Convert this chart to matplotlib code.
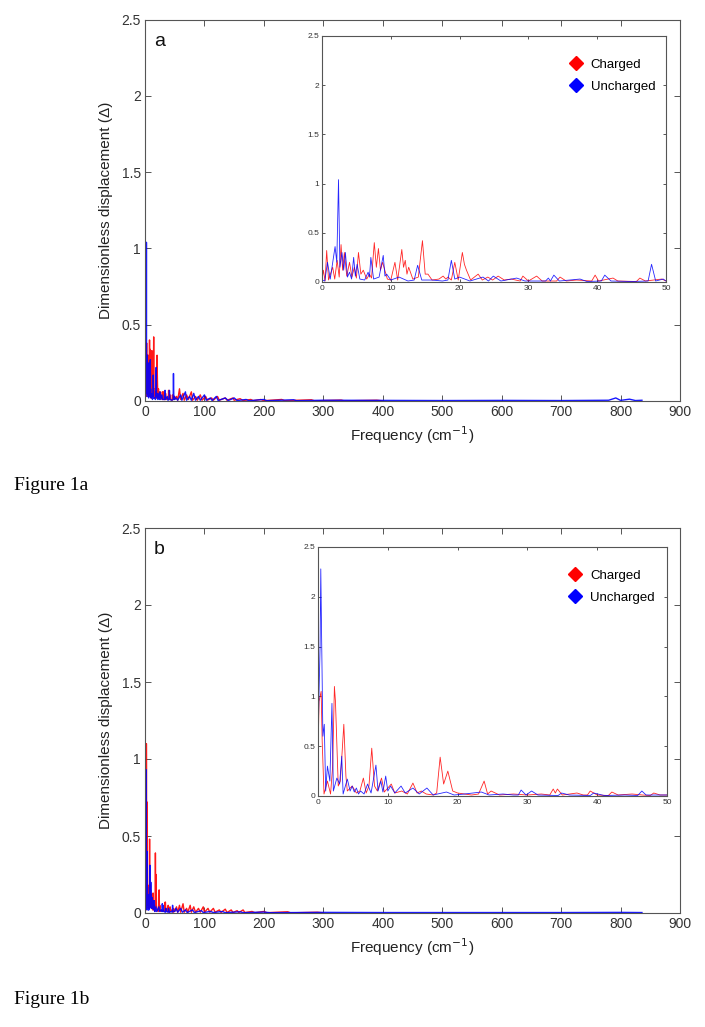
import numpy as np
import matplotlib
matplotlib.use("Agg")
import matplotlib.pyplot as plt
from matplotlib.lines import Line2D
from matplotlib.ticker import FuncFormatter

plt.rcParams['font.family'] = ['Liberation Sans', 'DejaVu Sans']

# ---------------- data (frequency cm-1, dimensionless displacement) ----------------
charged_a = [(0.0, 0.02), (0.2, 0.12), (0.45, 0.01), (0.68, 0.32), (0.95, 0.02), (1.55, 0.15),
             (1.85, 0.03), (2.2, 0.22), (2.5, 0.05), (2.77, 0.38), (3.0, 0.12), (3.25, 0.30),
             (3.6, 0.06), (4.0, 0.20), (4.35, 0.05), (4.7, 0.15), (5.0, 0.04), (5.3, 0.30),
             (5.65, 0.08), (6.0, 0.12), (6.5, 0.03), (6.9, 0.08), (7.2, 0.04), (7.6, 0.40),
             (7.9, 0.15), (8.2, 0.34), (8.5, 0.12), (8.8, 0.20), (9.5, 0.03), (10.0, 0.02),
             (10.6, 0.20), (11.0, 0.02), (11.6, 0.33), (11.85, 0.15), (12.1, 0.22), (12.35, 0.08),
             (12.6, 0.15), (13.2, 0.03), (14.0, 0.05), (14.6, 0.42), (15.0, 0.08), (15.4, 0.08),
             (16.0, 0.02), (17.0, 0.03), (17.6, 0.06), (18.0, 0.03), (18.3, 0.05), (18.8, 0.02),
             (19.3, 0.20), (19.8, 0.02), (20.4, 0.30), (20.7, 0.18), (21.0, 0.12), (21.6, 0.02),
             (22.7, 0.08), (23.3, 0.02), (24.1, 0.05), (24.8, 0.02), (25.6, 0.06), (26.5, 0.02),
             (27.5, 0.03), (28.8, 0.01), (29.2, 0.06), (30.0, 0.01), (31.2, 0.06), (32.0, 0.01),
             (34.1, 0.01), (34.6, 0.05), (35.5, 0.01), (37.0, 0.02), (39.2, 0.01), (39.7, 0.07),
             (40.2, 0.01), (42.3, 0.04), (43.0, 0.01), (45.7, 0.005), (46.2, 0.04), (47.0, 0.01),
             (49.4, 0.03), (50.0, 0.01),
             (53, 0.03), (55, 0.005), (58, 0.08), (60, 0.01), (64, 0.05), (66, 0.005), (70, 0.04),
             (73, 0.01), (78, 0.06), (80, 0.005), (85, 0.03), (88, 0.005), (93, 0.04), (96, 0.005),
             (102, 0.03), (105, 0.005), (112, 0.02), (115, 0.005), (122, 0.03), (125, 0.005),
             (135, 0.02), (138, 0.005), (148, 0.02), (150, 0.005), (160, 0.015), (165, 0.003),
             (178, 0.01), (182, 0.002), (195, 0.01), (200, 0.002), (230, 0.01), (235, 0.002),
             (280, 0.008), (285, 0.001), (330, 0.006), (335, 0.001), (390, 0.005), (400, 0.001)]

uncharged_a = [(0.0, 0.02), (0.4, 0.01), (0.8, 0.20), (1.2, 0.03), (1.9, 0.36), (2.15, 0.20),
               (2.4, 1.04), (2.6, 0.15), (2.9, 0.30), (3.15, 0.12), (3.4, 0.30), (3.7, 0.05),
               (4.0, 0.10), (4.3, 0.03), (4.6, 0.25), (4.85, 0.06), (5.1, 0.18), (5.5, 0.03),
               (6.2, 0.02), (6.7, 0.10), (6.9, 0.05), (7.1, 0.25), (7.5, 0.03), (8.3, 0.05),
               (8.9, 0.27), (9.15, 0.06), (9.4, 0.08), (10.0, 0.02), (11.2, 0.05), (12.5, 0.01),
               (13.4, 0.02), (13.9, 0.17), (14.5, 0.02), (16.0, 0.02), (17.5, 0.01), (18.3, 0.02),
               (18.8, 0.22), (19.3, 0.03), (20.0, 0.05), (21.5, 0.01), (23.4, 0.05), (24.2, 0.01),
               (24.9, 0.06), (26.0, 0.01), (28.3, 0.04), (29.5, 0.01), (32.5, 0.01), (32.9, 0.04),
               (33.2, 0.01), (33.7, 0.07), (34.5, 0.01), (37.5, 0.03), (38.5, 0.005), (40.6, 0.01),
               (41.1, 0.07), (42.0, 0.01), (45.0, 0.005), (47.4, 0.01), (47.9, 0.18), (48.5, 0.01),
               (49.6, 0.03), (50.0, 0.01),
               (52, 0.02), (55, 0.005), (60, 0.04), (62, 0.005), (68, 0.06), (70, 0.005), (75, 0.03),
               (78, 0.005), (82, 0.05), (85, 0.005), (90, 0.03), (93, 0.005), (100, 0.04), (103, 0.005),
               (110, 0.02), (113, 0.003), (120, 0.03), (123, 0.003), (135, 0.02), (140, 0.003),
               (150, 0.02), (155, 0.003), (170, 0.01), (175, 0.002), (200, 0.01), (205, 0.002),
               (250, 0.008), (255, 0.002), (300, 0.005), (400, 0.004), (500, 0.003), (600, 0.004),
               (700, 0.003), (780, 0.005), (792, 0.02), (800, 0.004), (815, 0.012), (825, 0.003),
               (836, 0.005)]

charged_b = [(0.0, 0.38), (0.15, 0.95), (0.45, 1.05), (0.6, 0.55), (0.86, 0.02), (1.35, 0.15),
             (1.8, 0.02), (2.1, 0.30), (2.35, 1.10), (2.5, 0.95), (2.9, 0.10), (3.2, 0.15),
             (3.7, 0.72), (4.0, 0.20), (4.2, 0.05), (4.9, 0.10), (5.5, 0.03), (6.0, 0.05),
             (6.5, 0.18), (6.9, 0.03), (7.3, 0.10), (7.7, 0.48), (8.1, 0.10), (8.5, 0.05),
             (9.1, 0.18), (9.5, 0.04), (10.5, 0.12), (11.0, 0.03), (12.0, 0.05), (12.8, 0.02),
             (13.6, 0.13), (14.2, 0.03), (14.8, 0.05), (15.5, 0.02), (16.5, 0.01), (17.0, 0.03),
             (17.5, 0.39), (18.0, 0.12), (18.6, 0.25), (19.3, 0.05), (20.0, 0.03), (21.0, 0.02),
             (22.0, 0.01), (23.0, 0.02), (23.8, 0.15), (24.3, 0.02), (24.8, 0.05), (26.0, 0.01),
             (28.0, 0.02), (30.0, 0.01), (32.0, 0.02), (33.2, 0.01), (33.7, 0.07), (34.0, 0.03),
             (34.3, 0.07), (35.0, 0.01), (37.1, 0.03), (38.0, 0.01), (38.6, 0.01), (39.0, 0.05),
             (40.0, 0.01), (41.6, 0.005), (42.1, 0.04), (43.0, 0.01), (45.0, 0.02), (46.5, 0.01),
             (47.6, 0.005), (48.1, 0.03), (49.0, 0.01), (50.0, 0.01),
             (53, 0.04), (55, 0.005), (58, 0.05), (60, 0.005), (64, 0.06), (66, 0.005), (70, 0.03),
             (72, 0.005), (76, 0.05), (78, 0.005), (82, 0.04), (85, 0.005), (90, 0.03), (93, 0.005),
             (98, 0.04), (100, 0.005), (106, 0.03), (109, 0.005), (115, 0.03), (118, 0.005),
             (125, 0.02), (128, 0.003), (135, 0.025), (138, 0.003), (145, 0.02), (148, 0.003),
             (155, 0.015), (158, 0.003), (165, 0.02), (168, 0.003), (180, 0.01), (185, 0.002),
             (200, 0.01), (205, 0.002), (240, 0.008), (245, 0.001), (290, 0.005), (300, 0.001)]

uncharged_b = [(0.0, 0.50), (0.15, 1.05), (0.3, 1.50), (0.4, 2.28), (0.5, 1.70), (0.7, 0.60),
               (0.9, 0.72), (1.1, 0.05), (1.35, 0.30), (1.7, 0.15), (2.0, 0.93), (2.2, 0.05),
               (2.7, 0.18), (3.1, 0.12), (3.4, 0.40), (3.6, 0.02), (4.2, 0.17), (4.6, 0.05),
               (4.9, 0.10), (5.2, 0.04), (5.5, 0.08), (5.8, 0.02), (6.1, 0.05), (6.6, 0.02),
               (7.1, 0.12), (7.6, 0.03), (8.3, 0.31), (8.6, 0.05), (9.0, 0.15), (9.3, 0.04),
               (9.7, 0.20), (10.0, 0.05), (10.4, 0.10), (11.0, 0.03), (11.9, 0.10), (12.5, 0.03),
               (13.6, 0.08), (14.5, 0.02), (15.6, 0.08), (16.5, 0.01), (18.4, 0.04), (19.5, 0.01),
               (21.0, 0.02), (23.4, 0.04), (24.5, 0.01), (26.5, 0.02), (28.0, 0.01), (28.7, 0.01),
               (29.1, 0.06), (29.8, 0.01), (30.6, 0.05), (31.5, 0.01), (34.4, 0.005), (34.9, 0.03),
               (36.0, 0.01), (39.0, 0.005), (39.5, 0.03), (41.0, 0.005), (44.0, 0.01), (45.8, 0.005),
               (46.4, 0.05), (47.0, 0.01), (50.0, 0.01),
               (52, 0.03), (55, 0.005), (60, 0.03), (63, 0.005), (68, 0.02), (71, 0.003), (80, 0.02),
               (83, 0.003), (95, 0.015), (98, 0.003), (110, 0.01), (115, 0.003), (130, 0.01),
               (135, 0.002), (160, 0.008), (165, 0.002), (200, 0.006), (210, 0.002), (300, 0.004),
               (400, 0.003), (500, 0.003), (600, 0.003), (700, 0.003), (800, 0.004), (836, 0.003)]

panel_labels = ["a", "b"]
figure_captions = ["Figure 1a", "Figure 1b"]
series_names = ["Charged", "Uncharged"]
series_colors = ["#ff0000", "#0000ff"]
main_xticks = list(range(0, 1000, 100))
inset_xticks = list(range(0, 60, 10))
yticks = [0, 0.5, 1, 1.5, 2, 2.5]

panels = [(charged_a, uncharged_a), (charged_b, uncharged_b)]

# ---------------- layout ----------------
W, H = 705, 1027
fig = plt.figure(figsize=(W / 100, H / 100), dpi=100)

def rect(l, t, r, b):
    return [l / W, 1 - b / H, (r - l) / W, (b - t) / H]

main_rects = [rect(145, 19.5, 680, 401), rect(145, 528, 680, 913)]
inset_rects = [rect(322, 36, 666, 282), rect(318, 547, 667, 796)]
caption_y = [486, 1000]

fmt = FuncFormatter(lambda v, p: f"{v:g}")
spine_col = "#555555"
tick_col = "#333333"

def style(ax, size, ticklen):
    for s in ax.spines.values():
        s.set_color(spine_col)
        s.set_linewidth(0.8)
    ax.tick_params(direction="in", top=True, right=True, length=ticklen, width=0.7,
                   colors=spine_col, labelcolor=tick_col, labelsize=size, pad=3)
    ax.yaxis.set_major_formatter(fmt)
    ax.xaxis.set_major_formatter(fmt)

for i, (ch, un) in enumerate(panels):
    ax = fig.add_axes(main_rects[i])
    for data, col in zip((ch, un), series_colors):
        f = np.array([p[0] for p in data])
        v = np.array([p[1] for p in data])
        m = f >= 1.0
        ax.plot(f[m], v[m], color=col, lw=1.0, alpha=0.9)
    ax.set_xlim(0, 900)
    ax.set_ylim(0, 2.5)
    ax.set_xticks(main_xticks)
    ax.set_yticks(yticks)
    style(ax, 10, 4)
    ax.set_xlabel("Frequency (cm$^{-1}$)", fontsize=11, color="#222222", labelpad=4)
    ax.set_ylabel("Dimensionless displacement (Δ)", fontsize=11, color="#222222", labelpad=6)
    ax.text(0.017, 0.965, panel_labels[i], transform=ax.transAxes, fontsize=14,
            va="top", ha="left", color="#111111")

    ins = fig.add_axes(inset_rects[i])
    for data, col in zip((ch, un), series_colors):
        f = np.array([p[0] for p in data])
        v = np.array([p[1] for p in data])
        ins.plot(f, v, color=col, lw=0.6, alpha=0.85)
    ins.set_xlim(0, 50)
    ins.set_ylim(0, 2.5)
    ins.set_xticks(inset_xticks)
    ins.set_yticks(yticks)
    style(ins, 6, 2.5)
    ins.tick_params(pad=2)
    handles = [Line2D([], [], ls="none", marker="D", markersize=7, color=c, label=n)
               for c, n in zip(series_colors, series_names)]
    ins.legend(handles=handles, loc="upper left", bbox_to_anchor=(0.70, 0.93),
               frameon=False, fontsize=9.5, handletextpad=0.5, labelspacing=0.75,
               borderaxespad=0, handlelength=1.2)

    fig.text(14 / W, 1 - caption_y[i] / H, figure_captions[i], fontsize=14,
             family=["Liberation Serif", "DejaVu Serif"], va="center", ha="left")

fig.savefig("out.png", dpi=100)
